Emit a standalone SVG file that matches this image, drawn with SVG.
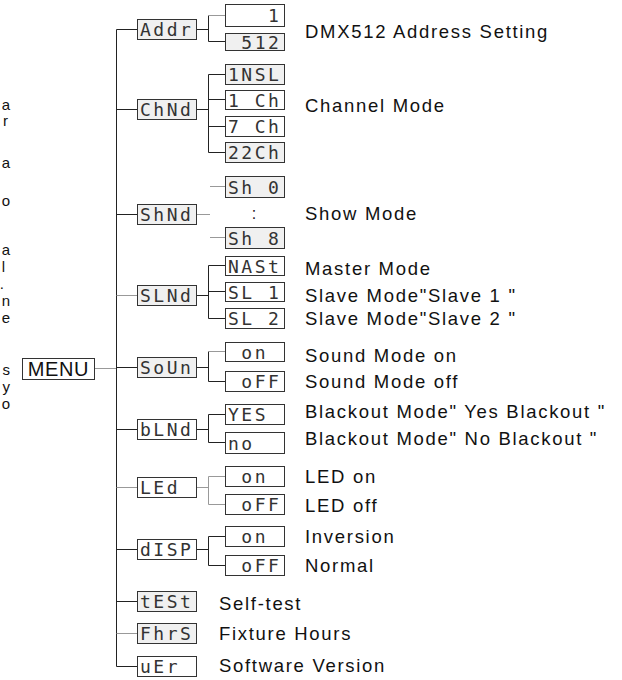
<svg xmlns="http://www.w3.org/2000/svg" width="622" height="680" viewBox="0 0 622 680">
<style>
.bg{fill:#ffffff}
.box{fill:#ffffff;stroke:#333;stroke-width:1}
.boxg{fill:#f0f0f0;stroke:#333;stroke-width:1}
.seg{font-family:"DejaVu Sans Mono",monospace;font-size:18px;letter-spacing:2.5px;fill:#333}
.lbl{font-family:"Liberation Sans",Arial,sans-serif;font-size:18.5px;letter-spacing:1.7px;fill:#111}
.frag{font-family:"Liberation Sans",Arial,sans-serif;font-size:15px;fill:#111}
.ln{stroke:#222;stroke-width:1;fill:none}
.lg{stroke:#999;stroke-width:1;fill:none}
</style>
<rect class="bg" x="0" y="0" width="622" height="680"/>
<g id="fragments">
<text class="frag" x="10" y="110" text-anchor="end">a</text>
<text class="frag" x="8" y="126" text-anchor="end">r</text>
<text class="frag" x="10" y="168" text-anchor="end">a</text>
<text class="frag" x="10" y="206" text-anchor="end">o</text>
<text class="frag" x="10" y="255" text-anchor="end">a</text>
<text class="frag" x="5" y="272" text-anchor="end">l</text>
<text class="frag" x="4" y="289" text-anchor="end">.</text>
<text class="frag" x="10" y="306" text-anchor="end">n</text>
<text class="frag" x="10" y="323" text-anchor="end">e</text>
<text class="frag" x="10" y="375" text-anchor="end">s</text>
<text class="frag" x="10" y="392" text-anchor="end">y</text>
<text class="frag" x="10" y="409" text-anchor="end">o</text>
</g>
<g id="connectors">
<path class="lg" d="M94.5 368.5H116.5"/>
<path class="ln" d="M116.5 29.5V666.5"/>
<path class="ln" d="M116.5 29.5H137 M116.5 109.5H137 M116.5 214.5H137 M116.5 367.5H137 M116.5 429.5H137 M116.5 549.5H137 M116.5 601.5H137 M116.5 666.5H137"/>
<path class="lg" d="M116.5 295.5H137 M116.5 487.5H137 M116.5 633.5H137"/>
<path class="ln" d="M196 29.5H208.5 M208.5 15.5V41.5 M208.5 41.5H225"/>
<path class="lg" d="M208.5 15.5H225"/>
<path class="ln" d="M196 109.5H208.5 M208.5 74.5V152.5 M208.5 74.5H225 M208.5 99.5H225 M208.5 126.5H225 M208.5 152.5H225"/>
<path class="lg" d="M196 214.5H210 M210 186.5H225 M210 237.5H225"/>
<path class="ln" d="M196 295.5H208.5 M208.5 265.5V318.5 M208.5 265.5H225 M208.5 291.5H225 M208.5 318.5H225"/>
<path class="ln" d="M196 367.5H208.5 M208.5 351.5V381.5 M208.5 381.5H225"/>
<path class="lg" d="M208.5 351.5H225"/>
<path class="ln" d="M196 429.5H208.5 M208.5 414.5V442.5 M208.5 414.5H225 M208.5 442.5H225"/>
<path class="lg" d="M196 487.5H208.5 M208.5 476.5V504.5 M208.5 476.5H225 M208.5 504.5H225"/>
<path class="ln" d="M196 549.5H208.5 M208.5 536.5V565.5 M208.5 536.5H225 M208.5 565.5H225"/>
</g>
<g id="menu">
<rect class="box" x="22.5" y="358.5" width="72" height="21"/>
<text x="58.5" y="376" text-anchor="middle" style="font-family:'Liberation Sans',Arial,sans-serif;font-size:20px;letter-spacing:0.6px;fill:#111">MENU</text>
</g>
<g id="addr">
<rect class="boxg" x="137.5" y="19.5" width="59" height="20"/>
<text class="seg" x="140" y="36" xml:space="preserve">Addr</text>
<rect class="box" x="225.5" y="4.5" width="59" height="22"/>
<text class="seg" x="228" y="22" xml:space="preserve">   1</text>
<rect class="boxg" x="225.5" y="33.5" width="59" height="17"/>
<text class="seg" x="228" y="48.5" xml:space="preserve"> 512</text>
<text class="lbl" x="305" y="38">DMX512 Address Setting</text>
</g>
<g id="chnd">
<rect class="boxg" x="137.5" y="99.5" width="59" height="20"/>
<text class="seg" x="140" y="116" xml:space="preserve">ChNd</text>
<rect class="boxg" x="225.5" y="64.5" width="59" height="20"/>
<text class="seg" x="228" y="81" xml:space="preserve">1NSL</text>
<rect class="box" x="225.5" y="90.5" width="59" height="19"/>
<text class="seg" x="228" y="106.5" xml:space="preserve">1 Ch</text>
<rect class="box" x="225.5" y="116.5" width="59" height="20"/>
<text class="seg" x="228" y="133" xml:space="preserve">7 Ch</text>
<rect class="boxg" x="225.5" y="142.5" width="59" height="20"/>
<text class="seg" x="228" y="159" xml:space="preserve">22Ch</text>
<text class="lbl" x="305" y="112">Channel Mode</text>
</g>
<g id="shnd">
<rect class="boxg" x="137.5" y="204.5" width="59" height="20"/>
<text class="seg" x="140" y="221" xml:space="preserve">ShNd</text>
<rect class="boxg" x="225.5" y="176.5" width="59" height="21"/>
<text class="seg" x="228" y="193.5" xml:space="preserve">Sh 0</text>
<text x="254" y="219" text-anchor="middle" style="font-family:'Liberation Sans',Arial,sans-serif;font-size:16px;fill:#222">:</text>
<rect class="boxg" x="225.5" y="227.5" width="59" height="21"/>
<text class="seg" x="228" y="244.5" xml:space="preserve">Sh 8</text>
<text class="lbl" x="305" y="220">Show Mode</text>
</g>
<g id="slnd">
<rect class="boxg" x="137.5" y="285.5" width="59" height="20"/>
<text class="seg" x="140" y="302" xml:space="preserve">SLNd</text>
<rect class="box" x="225.5" y="256.5" width="59" height="19"/>
<text class="seg" x="228" y="272.5" xml:space="preserve">NASt</text>
<rect class="box" x="225.5" y="282.5" width="59" height="19"/>
<text class="seg" x="228" y="298.5" xml:space="preserve">SL 1</text>
<rect class="box" x="225.5" y="308.5" width="59" height="20"/>
<text class="seg" x="228" y="325" xml:space="preserve">SL 2</text>
<text class="lbl" x="305" y="275">Master Mode</text>
<text class="lbl" x="305" y="302">Slave Mode"Slave 1 "</text>
<text class="lbl" x="305" y="325">Slave Mode"Slave 2 "</text>
</g>
<g id="soun">
<rect class="boxg" x="137.5" y="357.5" width="59" height="20"/>
<text class="seg" x="140" y="374" xml:space="preserve">SoUn</text>
<rect class="box" x="225.5" y="342.5" width="59" height="19"/>
<text class="seg" x="228" y="358.5" xml:space="preserve"> on </text>
<rect class="box" x="225.5" y="371.5" width="59" height="20"/>
<text class="seg" x="228" y="388" xml:space="preserve"> oFF</text>
<text class="lbl" x="305" y="362">Sound Mode on</text>
<text class="lbl" x="305" y="388">Sound Mode off</text>
</g>
<g id="blnd">
<rect class="box" x="137.5" y="419.5" width="59" height="20"/>
<text class="seg" x="140" y="436" xml:space="preserve">bLNd</text>
<rect class="box" x="225.5" y="404.5" width="59" height="20"/>
<text class="seg" x="228" y="421" xml:space="preserve">YES </text>
<rect class="box" x="225.5" y="432.5" width="59" height="21"/>
<text class="seg" x="228" y="449.5" xml:space="preserve">no  </text>
<text class="lbl" x="305" y="418">Blackout Mode" Yes Blackout "</text>
<text class="lbl" x="305" y="445">Blackout Mode" No Blackout "</text>
</g>
<g id="led">
<rect class="box" x="137.5" y="477.5" width="59" height="20"/>
<text class="seg" x="140" y="494" xml:space="preserve">LEd </text>
<rect class="box" x="225.5" y="466.5" width="59" height="20"/>
<text class="seg" x="228" y="483" xml:space="preserve"> on </text>
<rect class="box" x="225.5" y="494.5" width="59" height="20"/>
<text class="seg" x="228" y="511" xml:space="preserve"> oFF</text>
<text class="lbl" x="305" y="483">LED on</text>
<text class="lbl" x="305" y="512">LED off</text>
</g>
<g id="disp">
<rect class="box" x="137.5" y="539.5" width="59" height="20"/>
<text class="seg" x="140" y="556" xml:space="preserve">dISP</text>
<rect class="box" x="225.5" y="526.5" width="59" height="20"/>
<text class="seg" x="228" y="543" xml:space="preserve"> on </text>
<rect class="box" x="225.5" y="555.5" width="59" height="20"/>
<text class="seg" x="228" y="572" xml:space="preserve"> oFF</text>
<text class="lbl" x="305" y="543">Inversion</text>
<text class="lbl" x="305" y="572">Normal</text>
</g>
<g id="test">
<rect class="boxg" x="137.5" y="591.5" width="59" height="20"/>
<text class="seg" x="140" y="608" xml:space="preserve">tESt</text>
<text class="lbl" x="219" y="610">Self-test</text>
</g>
<g id="fhrs">
<rect class="boxg" x="137.5" y="623.5" width="59" height="20"/>
<text class="seg" x="140" y="640" xml:space="preserve">FhrS</text>
<text class="lbl" x="219" y="640">Fixture Hours</text>
</g>
<g id="ver">
<rect class="box" x="137.5" y="656.5" width="59" height="20"/>
<text class="seg" x="140" y="673" xml:space="preserve">uEr </text>
<text class="lbl" x="219" y="672">Software Version</text>
</g>
</svg>
